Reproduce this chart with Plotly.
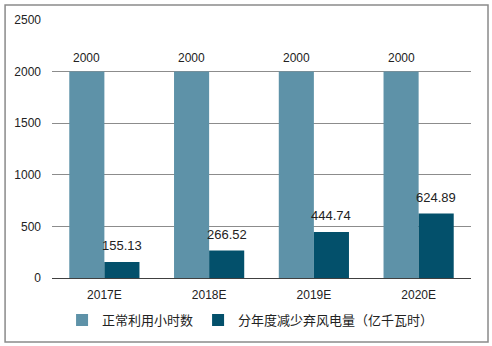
import plotly.graph_objects as go

categories = ["2017E", "2018E", "2019E", "2020E"]
hours = [2000, 2000, 2000, 2000]
reduced = [155.13, 266.52, 444.74, 624.89]
series_names = ["正常利用小时数", "分年度减少弃风电量（亿千瓦时）"]
y_ticks = [0, 500, 1000, 1500, 2000, 2500]

font_family = "Liberation Sans, Arial, Noto Sans CJK SC, sans-serif"

fig = go.Figure()
fig.add_trace(go.Bar(
    x=categories, y=hours, name=series_names[0],
    marker=dict(color="#5E92A8", line=dict(width=0)),
    offsetgroup="a",
))
fig.add_trace(go.Bar(
    x=categories, y=reduced, name=series_names[1],
    marker=dict(color="#03506B", line=dict(width=0)),
    offsetgroup="b",
))

# value labels placed via axis scales (category index offset by half a bar)
bar_half = (1 - 0.33) / 4
annotations = []
for i, (c, v) in enumerate(zip(categories, hours)):
    annotations.append(dict(x=i - bar_half, y=v, xref="x", yref="y", text=str(v),
                            showarrow=False, yanchor="bottom", yshift=5,
                            font=dict(size=12, color="#222222")))
for i, (c, v) in enumerate(zip(categories, reduced)):
    annotations.append(dict(x=i + bar_half, y=v, xref="x", yref="y", text=f"{v:.2f}",
                            showarrow=False, yanchor="bottom", yshift=7,
                            font=dict(size=13, color="#222222")))

fig.update_layout(
    width=492, height=346,
    margin=dict(l=52, r=21, t=20, b=68, autoexpand=False),
    paper_bgcolor="white", plot_bgcolor="white",
    barmode="group", bargap=0.33, bargroupgap=0,
    font=dict(family=font_family, size=12, color="#222222"),
    showlegend=True,
    legend=dict(orientation="h", x=0.024, xanchor="left",
                yref="container", y=0.075, yanchor="middle",
                font=dict(size=13, family="Noto Sans CJK SC, sans-serif"),
                itemwidth=30, traceorder="normal", tracegroupgap=0),
    annotations=annotations,
    shapes=[dict(type="rect", xref="paper", yref="paper",
                 x0=-0.112, x1=1.0406, y0=-0.248, y1=1.058,
                 line=dict(color="#8a8a8a", width=1.5))],
)
fig.update_xaxes(showgrid=False, showline=True, linecolor="#404040", linewidth=1,
                 ticks="", tickfont=dict(size=12), ticklabelstandoff=6)
fig.update_yaxes(range=[0, 2500], tickvals=y_ticks, showgrid=True,
                 gridcolor="#8c8c8c", gridwidth=1, zeroline=False,
                 showline=False, ticks="", tickfont=dict(size=12), ticklabelstandoff=10)

fig.write_html("out.html")
